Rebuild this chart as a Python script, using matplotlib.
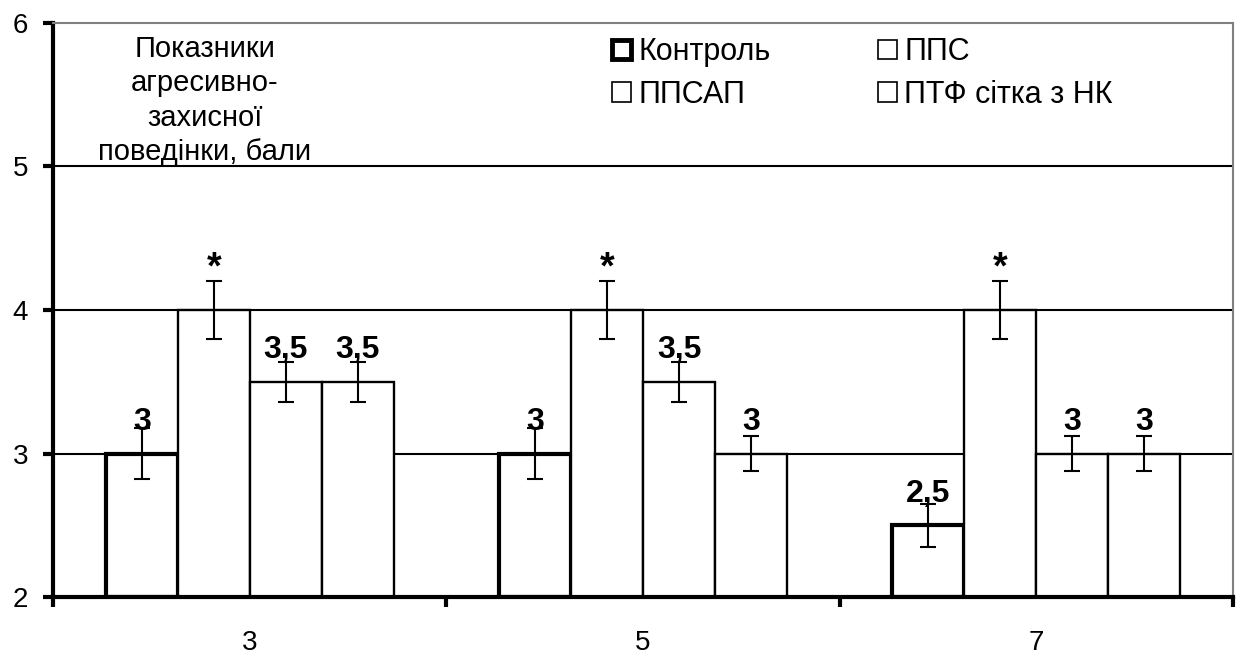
import numpy as np
import matplotlib.pyplot as plt
from matplotlib.patches import Patch

plt.rcParams['font.family'] = ['Liberation Sans', 'DejaVu Sans']

# days of observation and group data
days = ['3', '5', '7']
series = ['Контроль', 'ППС', 'ППСАП', 'ПТФ сітка з НК']
values = [
    [3.0, 3.0, 2.5],   # Контроль
    [4.0, 4.0, 4.0],   # ППС
    [3.5, 3.5, 3.0],   # ППСАП
    [3.5, 3.0, 3.0],   # ПТФ сітка з НК
]
errors = [
    [0.18, 0.18, 0.15],
    [0.20, 0.20, 0.20],
    [0.14, 0.14, 0.12],
    [0.14, 0.12, 0.12],
]
bar_labels = [
    ['3', '3', '2,5'],
    ['*', '*', '*'],
    ['3,5', '3,5', '3'],
    ['3,5', '3', '3'],
]

fig, ax = plt.subplots(figsize=(12.43, 6.54), dpi=100)
fig.subplots_adjust(left=0.0426, right=0.992, bottom=0.087, top=0.965)

ymin = 2
width = 0.183
x = np.arange(len(days)) + 0.5

# horizontal gridlines behind the bars
for g in [3, 4, 5]:
    ax.axhline(g, color='black', lw=1.5, zorder=0)

for i, name in enumerate(series):
    pos = x + (i - 1.5) * width
    vals = np.array(values[i])
    lw = 3.0 if i == 0 else 1.7
    ax.bar(pos, vals - ymin, width, bottom=ymin, color='white',
           edgecolor='black', linewidth=lw, zorder=2)
    ax.errorbar(pos, vals, yerr=errors[i], fmt='none', ecolor='black',
                elinewidth=1.5, capsize=5.8, capthick=1.5, zorder=3)
    for xp, v, lab in zip(pos, vals, bar_labels[i]):
        # the asterisk sits a bit higher and larger than the numbers
        off, fs = (23, 27) if lab == '*' else (17, 23)
        ax.annotate(lab, (xp, v), xytext=(0, off), textcoords='offset points',
                    ha='center', va='baseline', fontsize=fs,
                    fontweight='bold', zorder=4)

ax.set_xlim(0, 3)
ax.set_ylim(2, 6)
ax.set_yticks([2, 3, 4, 5, 6])
ax.set_xticks([0, 1, 2, 3])
ax.set_xticklabels([])
ax.set_xticks(x, minor=True)
ax.set_xticklabels(days, minor=True)
ax.tick_params(axis='y', direction='out', length=7, width=3, labelsize=20, pad=11)
ax.tick_params(axis='x', which='major', direction='out', length=7, width=3)
ax.tick_params(axis='x', which='minor', length=0, labelsize=20, pad=24)

for side in ['left', 'bottom']:
    ax.spines[side].set_linewidth(3)
for side in ['top', 'right']:
    ax.spines[side].set_linewidth(1.5)
    ax.spines[side].set_color('#808080')

ax.text(0.386, 5.46, 'Показники\nагресивно-\nзахисної\nповедінки, бали',
        ha='center', va='center', fontsize=21, linespacing=1.3)

handles = [
    Patch(facecolor='white', edgecolor='black', linewidth=3.5),
    Patch(facecolor='white', edgecolor='black', linewidth=1.2),
    Patch(facecolor='white', edgecolor='black', linewidth=1.2),
    Patch(facecolor='white', edgecolor='black', linewidth=1.2),
]
order = [0, 2, 1, 3]
ax.legend([handles[k] for k in order], [series[k] for k in order],
          ncol=2, frameon=False, fontsize=22, loc='upper left',
          bbox_to_anchor=(0.4737, 0.975), borderaxespad=0, borderpad=0,
          handlelength=0.62, handleheight=0.62,
          handletextpad=0.25, columnspacing=3.5, labelspacing=0.42)

fig.savefig('out.png', dpi=100)
